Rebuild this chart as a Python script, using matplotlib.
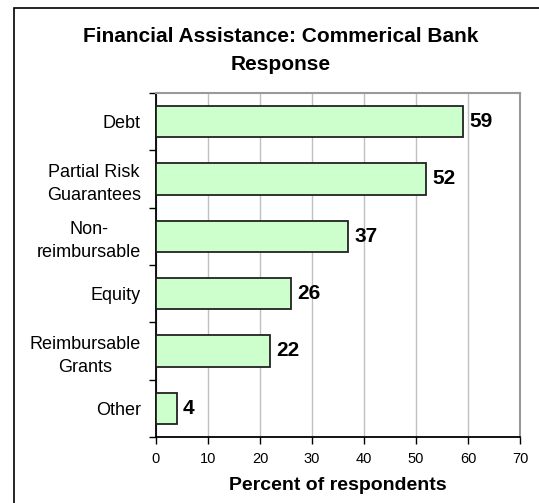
import matplotlib
matplotlib.use("Agg")
import matplotlib.pyplot as plt
from matplotlib.patches import Rectangle
import numpy as np

plt.rcParams['font.family'] = ['Liberation Sans', 'DejaVu Sans']

categories = ["Debt", "Partial Risk\nGuarantees", "Non-\nreimbursable", "Equity",
              "Reimbursable\nGrants", "Other"]
values = [59, 52, 37, 26, 22, 4]
xticks = [0, 10, 20, 30, 40, 50, 60, 70]

W, H = 539, 503
fig = plt.figure(figsize=(W / 100, H / 100), dpi=100)
fig.patch.set_facecolor('white')

# outer border
fig.patches.append(Rectangle((14 / W, -0.1), 1.2, 1 - 8 / H + 0.1, transform=fig.transFigure,
                             fill=False, edgecolor='black', linewidth=1.2, zorder=0))

ax = fig.add_axes([156 / W, 1 - 437 / H, (520 - 156) / W, (437 - 93) / H])
n = len(categories)
ypos = np.arange(n)
ax.barh(ypos, values, height=0.55, color='#CCFFCC', edgecolor='#222222', linewidth=1.3, zorder=3)
ax.set_ylim(n - 0.5, -0.5)
ax.set_xlim(0, 70)

for y, v in zip(ypos, values):
    ax.annotate(str(v), (v, y), xytext=(4.5, 0), textcoords='offset points',
                ha='left', va='center', fontsize=15, fontweight='bold', zorder=4)

ax.set_xticks(xticks)
ax.set_xticklabels([str(t) for t in xticks], fontsize=10.5)
ax.set_yticks(ypos)
ax.set_yticklabels(categories, fontsize=13, multialignment='center', linespacing=1.45)
ax.tick_params(axis='y', length=0, pad=11)
ax.set_yticks(np.arange(n + 1) - 0.5, minor=True)
ax.tick_params(axis='y', which='minor', length=5, direction='out', width=1)
ax.tick_params(axis='x', length=5, direction='out', width=1, pad=6)

ax.grid(axis='x', color='#c0c0c0', linewidth=1, zorder=0)
ax.set_axisbelow(True)
for s in ['top', 'right']:
    ax.spines[s].set_color('#999999')
    ax.spines[s].set_linewidth(1.5)
for s in ['left', 'bottom']:
    ax.spines[s].set_color('black')
    ax.spines[s].set_linewidth(1.3)

ax.set_xlabel("Percent of respondents", fontsize=14, fontweight='bold', labelpad=8)

fig.text(281 / W, 1 - 51 / H, "Financial Assistance: Commerical Bank\nResponse",
         ha='center', va='center', fontsize=15, fontweight='bold', linespacing=1.6)

fig.savefig("out.png", dpi=100)
